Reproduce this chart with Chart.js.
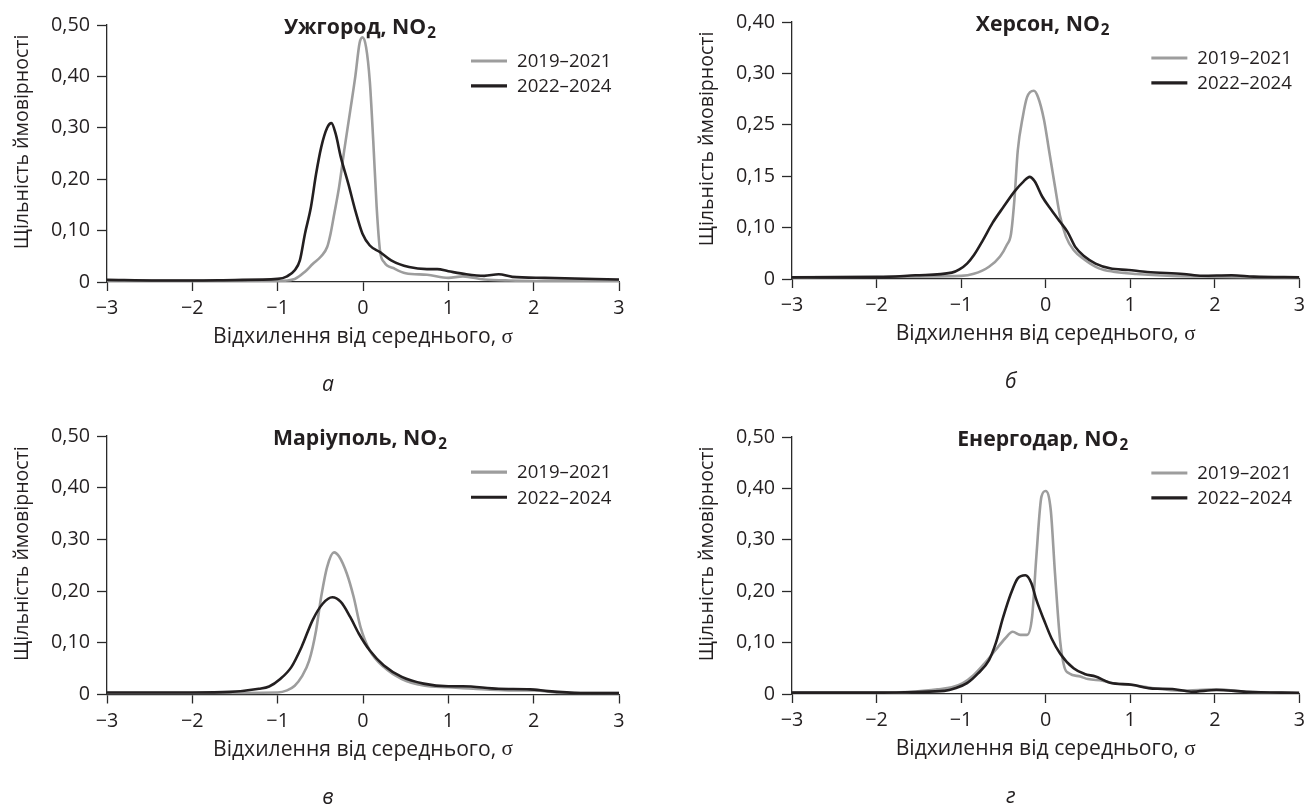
<!DOCTYPE html>
<html><head><meta charset="utf-8">
<script src="https://cdn.jsdelivr.net/npm/chart.js@4.4.1/dist/chart.umd.min.js"></script>
<style>
html,body{margin:0;padding:0;background:#fff;width:1311px;height:806px;overflow:hidden;}
canvas{position:absolute;display:block;}
</style></head><body>
<canvas id="ca" width="656" height="403" style="left:0;top:0;width:656px;height:403px"></canvas>
<canvas id="cb" width="655" height="403" style="left:656px;top:0;width:655px;height:403px"></canvas>
<canvas id="cc" width="656" height="403" style="left:0;top:403px;width:656px;height:403px"></canvas>
<canvas id="cd" width="655" height="403" style="left:656px;top:403px;width:655px;height:403px"></canvas>
<script>
// ---------- data ----------
const seriesLabels = ['2019–2021', '2022–2024'];
const titles = ['Ужгород, NO', 'Херсон, NO', 'Маріуполь, NO', 'Енергодар, NO'];
const titleSub = '2';
const subLabels = ['а', 'б', 'в', 'г'];
const xTitleText = 'Відхилення від середнього, ';
const xTitleSymbol = 'σ';
const yTitleText = 'Щільність ймовірності';
const xTickValues = [-3, -2, -1, 0, 1, 2, 3];
const xTickLabels = ['−3', '−2', '−1', '0', '1', '2', '3'];
const yTickValues50 = [0, 0.1, 0.2, 0.3, 0.4, 0.5];
const yTickLabels50 = ['0', '0,10', '0,20', '0,30', '0,40', '0,50'];
const yTickValuesKherson = [0, 0.08, 0.16, 0.24, 0.32, 0.40];
const yTickLabelsKherson = ['0', '0,10', '0,15', '0,25', '0,30', '0,40'];

// Ужгород
const uzhX1 = [-3, -2, -1.5, -1, -0.8, -0.68, -0.59, -0.49, -0.42, -0.38, -0.34, -0.28, -0.22, -0.15, -0.09, -0.04, -0.006, 0.036, 0.08, 0.12, 0.16, 0.2, 0.245, 0.37, 0.5, 0.75, 1.0, 1.17, 1.42, 1.71, 2.5, 3];
const uzhY1 = [0.003, 0.003, 0.003, 0.002, 0.006, 0.02, 0.035, 0.05, 0.068, 0.094, 0.13, 0.185, 0.256, 0.333, 0.40, 0.465, 0.476, 0.457, 0.39, 0.275, 0.146, 0.06, 0.039, 0.026, 0.017, 0.014, 0.008, 0.011, 0.005, 0.003, 0.002, 0.002];
const uzhX2 = [-3, -2.4, -2, -1.5, -1, -0.89, -0.8, -0.74, -0.68, -0.61, -0.55, -0.49, -0.42, -0.37, -0.32, -0.26, -0.17, -0.09, -0.006, 0.08, 0.2, 0.33, 0.54, 0.75, 0.87, 1.0, 1.21, 1.42, 1.59, 1.75, 2.13, 3];
const uzhY2 = [0.0045, 0.003, 0.003, 0.004, 0.006, 0.011, 0.023, 0.042, 0.094, 0.146, 0.21, 0.262, 0.30, 0.309, 0.288, 0.243, 0.19, 0.139, 0.094, 0.071, 0.058, 0.042, 0.029, 0.025, 0.025, 0.021, 0.015, 0.012, 0.015, 0.01, 0.008, 0.005];
// Херсон
const khX1 = [-3, -2, -1.0, -0.85, -0.67, -0.54, -0.46, -0.41, -0.37, -0.33, -0.27, -0.22, -0.14, -0.09, -0.02, 0.04, 0.11, 0.17, 0.24, 0.33, 0.46, 0.63, 0.8, 1.07, 1.5, 1.93, 3];
const khY1 = [0.0026, 0.0037, 0.0048, 0.008, 0.019, 0.035, 0.053, 0.070, 0.123, 0.200, 0.253, 0.283, 0.293, 0.283, 0.248, 0.200, 0.144, 0.098, 0.066, 0.045, 0.030, 0.0166, 0.0114, 0.0078, 0.0048, 0.0037, 0.0021];
const khX2 = [-3, -1.98, -1.54, -1.11, -1.02, -0.93, -0.85, -0.74, -0.63, -0.5, -0.37, -0.26, -0.19, -0.13, -0.04, 0.07, 0.17, 0.26, 0.35, 0.46, 0.59, 0.76, 0.98, 1.2, 1.63, 1.85, 2.2, 2.46, 3];
const khY2 = [0.0026, 0.003, 0.0058, 0.0099, 0.015, 0.024, 0.037, 0.061, 0.087, 0.112, 0.136, 0.152, 0.159, 0.152, 0.128, 0.107, 0.089, 0.073, 0.050, 0.035, 0.024, 0.0166, 0.014, 0.011, 0.0078, 0.0051, 0.0058, 0.0037, 0.0026];
// Маріуполь
const marX1 = [-3, -2, -1, -0.89, -0.8, -0.72, -0.63, -0.55, -0.49, -0.42, -0.34, -0.28, -0.19, -0.11, -0.03, 0.08, 0.245, 0.455, 0.71, 1.0, 1.29, 1.71, 2.0, 2.34, 3];
const marY1 = [0.003, 0.003, 0.004, 0.008, 0.017, 0.034, 0.066, 0.124, 0.189, 0.247, 0.275, 0.267, 0.234, 0.189, 0.131, 0.085, 0.053, 0.030, 0.0175, 0.014, 0.011, 0.008, 0.008, 0.003, 0.0026];
const marX2 = [-3, -2, -1.56, -1.22, -1.1, -0.97, -0.84, -0.72, -0.59, -0.47, -0.36, -0.26, -0.15, -0.05, 0.08, 0.245, 0.455, 0.71, 1.0, 1.17, 1.59, 1.96, 2.17, 2.55, 3];
const marY2 = [0.004, 0.004, 0.005, 0.011, 0.0155, 0.030, 0.053, 0.092, 0.144, 0.176, 0.188, 0.179, 0.150, 0.118, 0.085, 0.056, 0.034, 0.021, 0.016, 0.016, 0.011, 0.010, 0.0065, 0.003, 0.0026];
// Енергодар
const enX1 = [-3, -2, -1.54, -1.28, -1.11, -0.98, -0.85, -0.72, -0.59, -0.48, -0.39, -0.3, -0.22, -0.16, -0.11, -0.05, 0.0, 0.06, 0.11, 0.17, 0.22, 0.28, 0.41, 0.5, 0.67, 0.8, 1.02, 1.28, 1.59, 2.02, 2.37, 3];
const enY1 = [0.0026, 0.003, 0.005, 0.009, 0.013, 0.021, 0.037, 0.060, 0.086, 0.108, 0.121, 0.115, 0.115, 0.151, 0.268, 0.384, 0.395, 0.358, 0.235, 0.105, 0.053, 0.040, 0.034, 0.029, 0.026, 0.021, 0.0175, 0.011, 0.0065, 0.009, 0.0045, 0.0026];
const enX2 = [-3, -1.98, -1.54, -1.2, -1.07, -0.93, -0.8, -0.67, -0.59, -0.5, -0.41, -0.33, -0.24, -0.17, -0.11, -0.02, 0.07, 0.17, 0.33, 0.46, 0.59, 0.76, 1.02, 1.24, 1.5, 1.72, 2.02, 2.37, 3];
const enY2 = [0.0026, 0.0026, 0.004, 0.006, 0.011, 0.021, 0.040, 0.066, 0.099, 0.151, 0.196, 0.225, 0.231, 0.216, 0.183, 0.144, 0.108, 0.079, 0.050, 0.039, 0.034, 0.022, 0.018, 0.011, 0.0097, 0.0045, 0.0078, 0.0045, 0.002];

// ---------- style ----------
const FAMILY = '"Open Sans", "Noto Sans", sans-serif';
const GRAY = '#9d9d9d';
const BLACK = '#231f20';
const AXIS = '#2a2a2a';
const TEXT = '#231f20';

const mctx = document.createElement('canvas').getContext('2d');
function widthAt(text, font) { mctx.font = font; return mctx.measureText(text).width; }
function fitSize(text, weight, style, target) {
  return 100 * target / widthAt(text, `${style} ${weight} 100px ${FAMILY}`);
}
const tickSize = fitSize('0,50', 'normal', 'normal', 39);
const legendSize = fitSize(seriesLabels[0], 'normal', 'normal', 94.6);
const yTitleSize = fitSize(yTitleText, 'normal', 'normal', 215);
// x title = sans part + serif sigma, total 300
const xTitleSize = (function () {
  const a = widthAt(xTitleText, `normal 100px ${FAMILY}`) + widthAt(xTitleSymbol, `normal 100px "Liberation Serif"`);
  return 100 * 300 / a;
})();
// title = bold main + smaller subscript, total 151
const SUBR = 0.72;
const titleSize = (function () {
  const a = widthAt(titles[0], `bold 100px ${FAMILY}`) + widthAt(titleSub, `bold ${100 * SUBR}px ${FAMILY}`);
  return 100 * 151 / a;
})();

const decoPlugin = {
  id: 'deco',
  afterDraw(chart, args, opts) {
    const ctx = chart.ctx, ca = chart.chartArea;
    const w = ca.right - ca.left, h = ca.bottom - ca.top;
    const cx = (ca.left + ca.right) / 2;
    ctx.save();
    ctx.fillStyle = TEXT;
    // title with subscript
    const fMain = `bold ${titleSize}px ${FAMILY}`, fSub = `bold ${titleSize * SUBR}px ${FAMILY}`;
    ctx.font = fMain; const wm = ctx.measureText(opts.title).width;
    ctx.font = fSub; const ws = ctx.measureText(titleSub).width;
    const tx = cx - 3 - (wm + ws + 1) / 2, ty = ca.top + 8.7;
    ctx.textBaseline = 'alphabetic'; ctx.textAlign = 'left';
    ctx.font = fMain; ctx.fillText(opts.title, tx, ty);
    ctx.font = fSub; ctx.fillText(titleSub, tx + wm + 1, ty + 4);
    // legend
    const ds = chart.data.datasets.slice().sort((a, b) => a.legendIndex - b.legendIndex);
    ctx.font = `normal ${legendSize}px ${FAMILY}`;
    ctx.textBaseline = 'middle';
    const ly = [ca.top + 0.14 * h, ca.top + 0.237 * h];
    ds.forEach((d, i) => {
      ctx.strokeStyle = d.borderColor; ctx.lineWidth = 3.2;
      ctx.beginPath(); ctx.moveTo(ca.right - 148, ly[i]); ctx.lineTo(ca.right - 112, ly[i]); ctx.stroke();
      ctx.fillStyle = TEXT; ctx.fillText(d.label, ca.right - 102, ly[i] + 1);
    });
    // x title
    const fx = `normal ${xTitleSize}px ${FAMILY}`, fs = `normal ${xTitleSize}px "Liberation Serif", serif`;
    ctx.font = fx; const w1 = ctx.measureText(xTitleText).width;
    ctx.font = fs; const w2 = ctx.measureText(xTitleSymbol).width;
    const xx = cx - (w1 + w2) / 2, xy = ca.bottom + 55;
    ctx.font = fx; ctx.fillText(xTitleText, xx, xy);
    ctx.font = fs; ctx.fillText(xTitleSymbol, xx + w1, xy);
    // y title
    ctx.save();
    ctx.translate(ca.left - 84.5, ca.top + 0.455 * h);
    ctx.rotate(-Math.PI / 2);
    ctx.textAlign = 'center';
    ctx.font = `normal ${yTitleSize}px ${FAMILY}`;
    ctx.fillText(yTitleText, 0, 0);
    ctx.restore();
    // panel letter
    ctx.textAlign = 'center';
    ctx.font = `italic ${xTitleSize}px ${FAMILY}`;
    ctx.fillText(opts.sub, cx - 35, ca.bottom + 103);
    ctx.restore();
  }
};

function pts(xs, ys) { return xs.map((x, i) => ({ x: x, y: ys[i] })); }

function makeChart(id, area, title, sub, yVals, yLabs, yMax, x1, y1, x2, y2) {
  const cv = document.getElementById(id);
  const W = cv.width, H = cv.height;
  new Chart(cv, {
    type: 'line',
    plugins: [decoPlugin],
    data: {
      datasets: [
        { label: seriesLabels[1], legendIndex: 1, data: pts(x2, y2), borderColor: BLACK, borderWidth: 2.6, pointRadius: 0, cubicInterpolationMode: 'monotone', fill: false, order: 0 },
        { label: seriesLabels[0], legendIndex: 0, data: pts(x1, y1), borderColor: GRAY, borderWidth: 2.6, pointRadius: 0, cubicInterpolationMode: 'monotone', fill: false, order: 1 }
      ]
    },
    options: {
      responsive: false, animation: false, devicePixelRatio: 1,
      layout: { padding: { left: 0, top: area.top, right: W - area.right, bottom: 0 } },
      plugins: { legend: { display: false }, tooltip: { enabled: false }, title: { display: false }, deco: { title: title, sub: sub } },
      scales: {
        x: {
          type: 'linear', min: -3, max: 3,
          afterBuildTicks: s => { s.ticks = xTickValues.map(v => ({ value: v })); },
          afterFit: s => { s.height = H - area.bottom; },
          grid: { display: true, drawOnChartArea: false, drawTicks: true, tickLength: 9, tickColor: AXIS, tickWidth: 1.3, color: AXIS },
          border: { display: true, color: AXIS, width: 1.3 },
          ticks: { font: { family: FAMILY, size: tickSize }, color: TEXT, padding: 6, maxRotation: 0, autoSkip: false, callback: (v, i) => xTickLabels[i] }
        },
        y: {
          type: 'linear', min: 0, max: yMax,
          afterBuildTicks: s => { s.ticks = yVals.map(v => ({ value: v })); },
          afterFit: s => { s.width = area.left; },
          grid: { display: true, drawOnChartArea: false, drawTicks: true, tickLength: 10, tickColor: AXIS, tickWidth: 1.3, color: AXIS },
          border: { display: true, color: AXIS, width: 1.3 },
          ticks: { font: { family: FAMILY, size: tickSize }, color: TEXT, padding: 7, autoSkip: false, callback: (v, i) => yLabs[i] }
        }
      }
    }
  });
}

makeChart('ca', { left: 107, right: 619, top: 25, bottom: 282 }, titles[0], subLabels[0], yTickValues50, yTickLabels50, 0.5, uzhX1, uzhY1, uzhX2, uzhY2);
makeChart('cb', { left: 136, right: 647, top: 22, bottom: 279 }, titles[1], subLabels[1], yTickValuesKherson, yTickLabelsKherson, 0.4, khX1, khY1, khX2, khY2);
makeChart('cc', { left: 107, right: 619, top: 33, bottom: 291.5 }, titles[2], subLabels[2], yTickValues50, yTickLabels50, 0.5, marX1, marY1, marX2, marY2);
makeChart('cd', { left: 136, right: 647, top: 34, bottom: 291 }, titles[3], subLabels[3], yTickValues50, yTickLabels50, 0.5, enX1, enY1, enX2, enY2);
</script>
</body></html>
